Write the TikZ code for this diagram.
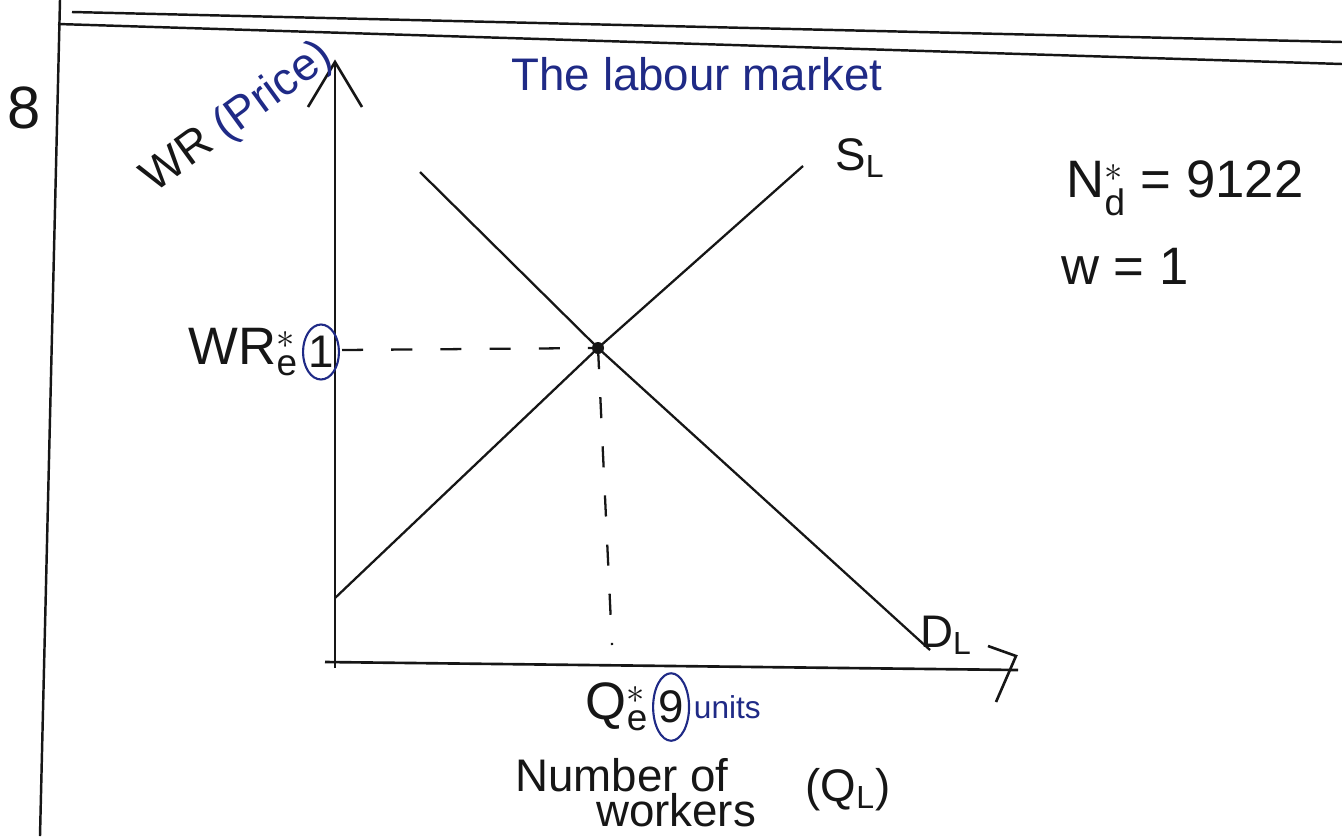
\documentclass[tikz,border=0pt]{standalone}
\usepackage{tikz}
\usetikzlibrary{positioning, arrows.meta, shapes.geometric, calc}
\usepackage{amsmath}
\usepackage{fontspec}
\setmainfont{Liberation Sans}
\usepackage{xcolor}
\definecolor{inkblue}{HTML}{1F2A86}
\definecolor{inkblack}{HTML}{161616}

\begin{document}
\begin{tikzpicture}[x=0.02cm, y=-0.02cm,
    every node/.style={font=\fontsize{26}{28}\selectfont, text=inkblack, inner sep=2pt},
    rule/.style={draw=inkblack, line width=1.4pt},
    axis/.style={draw=inkblack, line width=1.5pt},
    curve/.style={draw=inkblack, line width=1.3pt},
    guide/.style={draw=inkblack, line width=1.3pt, dash pattern=on 12pt off 16pt},
    ring/.style={draw=inkblue, ellipse, line width=1.2pt, inner sep=0pt, minimum width=0.55cm, text=inkblack},
    note/.style={text=inkblue},
  ]
  \useasboundingbox (0,0) rectangle (1342,836);

  % notebook page
  \coordinate (topA1) at (72,12);   \coordinate (topA2) at (1342,42);
  \coordinate (topB1) at (58,24);   \coordinate (topB2) at (1342,64);
  \coordinate (margin1) at (60,0);  \coordinate (margin2) at (40,836);
  \draw[rule] (topA1) -- (topA2);
  \draw[rule] (topB1) -- (topB2);
  \draw[rule] (margin1) -- (margin2);
  \node (page) at (24,108) {\fontsize{34}{36}\selectfont 8};

  % axes
  \coordinate (origin) at (335,668);
  \coordinate (ytop) at (335,62);
  \coordinate (xstart) at (325,662);
  \coordinate (xend) at (1018,670);
  \draw[axis] (origin) -- (ytop);
  \draw[axis] ($(ytop)+(-27,45)$) -- (ytop) -- ($(ytop)+(27,45)$);
  \draw[axis] (xstart) -- (xend);
  \draw[axis] ($(xend)+(-30,-24)$) -- ($(xend)+(-2,-14)$) -- ($(xend)+(-22,32)$);

  % supply and demand
  \coordinate (eq) at (598,348);
  \coordinate (sLow) at (335,598);
  \coordinate (sHigh) at (803,166);
  \coordinate (dHigh) at (420,172);
  \coordinate (dLow) at (930,650);
  \draw[curve] (sLow) -- (eq) -- (sHigh);
  \draw[curve] (dHigh) -- (eq) -- (dLow);
  \fill[inkblack] (eq) circle (6);

  % equilibrium guides
  \coordinate (wrMark) at (342,350);
  \coordinate (qeMark) at (612,645);
  \draw[guide] (wrMark) -- (eq);
  \draw[guide] (eq) -- (qeMark);

  % labels
  \node[note] (title) at (697,74) {The labour market};
  \node[rotate=36] (yname) at (238,118) {WR \textcolor{inkblue}{(Price)}};
  \node (sl) at (860,158) {S$_{\text{L}}$};
  \node (dl) at (946,635) {D$_{\text{L}}$};
  \node[ring, minimum height=1.1cm] (wrOne) at (321,352) {1};
  \node[left=0pt of wrOne] (wrStar) {\fontsize{30}{32}\selectfont WR$^{*}_{\text{e}}$};
  \node (qeStar) at (617,707) {\fontsize{30}{32}\selectfont Q$^{*}_{\text{e}}$};
  \node[ring, minimum height=1.35cm, right=0pt of qeStar] (qeNine) {9};
  \node[note, right=0pt of qeNine, font=\fontsize{18}{20}\selectfont] (units) {units};
  \node (xname1) at (622,775) {Number of};
  \node (xname2) at (676,810) {workers};
  \node (xname3) at (848,790) {(Q$_{\text{L}}$)};
  \node (nd) at (1185,188) {\fontsize{30}{32}\selectfont N$^{*}_{\text{d}}$ = 9122};
  \node (wage) at (1125,266) {\fontsize{30}{32}\selectfont w = 1};
\end{tikzpicture}
\end{document}
